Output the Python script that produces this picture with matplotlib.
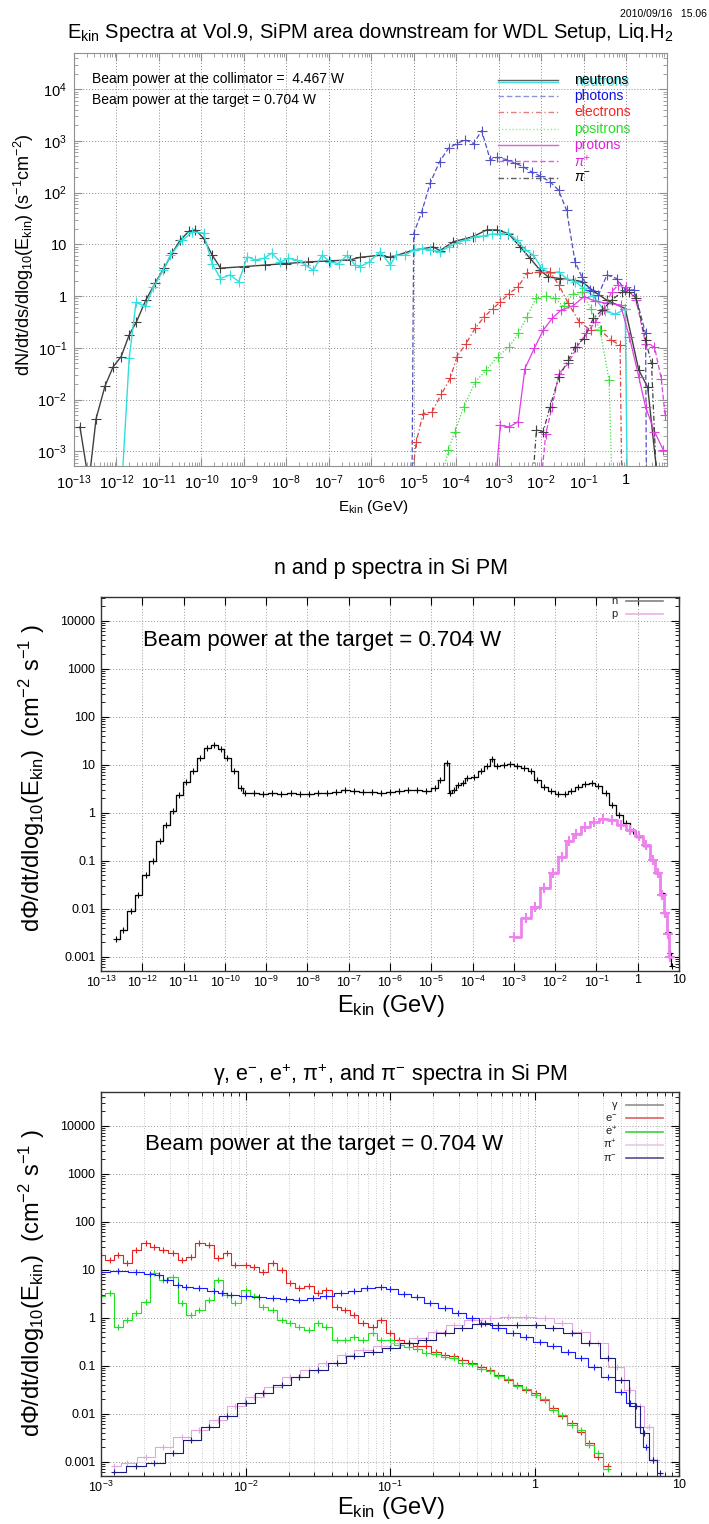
import matplotlib
matplotlib.use('Agg')
import matplotlib.pyplot as plt
import numpy as np
from matplotlib.ticker import FixedLocator, NullLocator, NullFormatter, LogLocator

plt.rcParams['font.family'] = ['Liberation Sans', 'DejaVu Sans']
plt.rcParams['mathtext.fontset'] = 'custom'
plt.rcParams['mathtext.rm'] = 'Liberation Sans'
plt.rcParams['mathtext.it'] = 'Liberation Sans:italic'
plt.rcParams['mathtext.bf'] = 'Liberation Sans:bold'

W, H = 709, 1524

# ---------------- top panel: log10(E/GeV), log10(flux) ----------------
n_top_logE = [-12.86, -12.65, -12.48, -12.27, -12.08, -11.89, -11.70, -11.53, -11.31, -11.09, -10.88, -10.69,
              -10.50, -10.30, -10.14, -9.95, -9.75, -9.55, -9.00, -8.50, -8.00, -7.50, -7.00, -6.50, -6.26,
              -5.79, -5.55, -5.00, -4.54, -4.38, -4.07, -3.60, -3.28, -3.04, -2.77, -2.49, -2.26, -2.02,
              -1.83, -1.55, -1.24, -1.04, -0.77, -0.45, -0.02, 0.30, 0.51, 0.75]
n_top_logF = [-2.53, -3.6, -2.37, -1.74, -1.37, -1.17, -0.75, -0.50, -0.08, 0.25, 0.54, 0.83, 1.08, 1.25, 1.28,
              1.12, 0.80, 0.54, 0.57, 0.60, 0.63, 0.66, 0.68, 0.70, 0.75, 0.79, 0.75, 0.89, 0.95, 0.88, 1.05,
              1.15, 1.28, 1.28, 1.21, 0.95, 0.73, 0.50, 0.37, 0.34, 0.31, 0.28, 0.10, -0.08, -0.24, -1.43,
              -1.76, -3.6]
n2_top_logE = [-11.87, -11.70, -11.54, -11.32, -11.13, -10.90, -10.73, -10.45, -10.21, -9.95, -9.75, -9.55,
               -9.32, -9.12, -8.92, -8.73, -8.53, -8.34, -8.14, -7.95, -7.75, -7.55, -7.36, -7.16, -6.96,
               -6.77, -6.57, -6.38, -6.26, -6.05, -5.79, -5.55, -5.42, -5.21, -5.00, -4.81, -4.61, -4.38,
               -4.18, -3.98, -3.79, -3.55, -3.36, -3.16, -2.97, -2.77, -2.57, -2.37, -2.18, -1.99, -1.79,
               -1.59, -1.40, -1.20, -0.99, -0.77, -0.50, -0.25, -0.02, 0.03]
n2_top_logF = [-3.6, -1.20, -0.12, -0.20, 0.17, 0.50, 0.79, 1.08, 1.24, 1.22, 0.63, 0.34, 0.41, 0.28, 0.76,
               0.70, 0.73, 0.83, 0.66, 0.73, 0.70, 0.60, 0.50, 0.79, 0.66, 0.63, 0.79, 0.60, 0.57, 0.66, 0.86,
               0.60, 0.79, 0.79, 0.89, 0.92, 0.89, 0.86, 0.95, 1.03, 1.08, 1.15, 1.16, 1.20, 1.20, 1.22, 1.08,
               0.90, 0.79, 0.54, 0.44, 0.47, 0.34, 0.28, 0.15, 0.0, -0.29, -0.35, -0.25, -3.6]
ph_logE = [-5.04, -5.00, -4.81, -4.61, -4.39, -4.18, -3.98, -3.79, -3.59, -3.40, -3.20, -3.04, -2.81, -2.61,
           -2.42, -2.22, -2.02, -1.79, -1.59, -1.40, -1.20, -1.04, -0.85, -0.65, -0.45, -0.22, -0.02, 0.19,
           0.46, 0.48]
ph_logF = [-3.6, 1.21, 1.63, 2.19, 2.60, 2.86, 2.95, 3.02, 2.95, 3.20, 2.64, 2.68, 2.64, 2.57, 2.50, 2.40,
           2.32, 2.21, 2.05, 1.66, 0.66, 0.37, 0.12, 0.02, 0.41, 0.34, 0.12, 0.12, -0.72, -3.6]
el_logE = [-5.05, -4.94, -4.78, -4.57, -4.35, -4.14, -3.98, -3.77, -3.55, -3.34, -3.13, -2.96, -2.75, -2.54,
           -2.33, -2.06, -1.79, -1.58, -1.36, -1.10, -0.83, -0.60, -0.35, -0.14, -0.10]
el_logF = [-3.6, -2.82, -2.27, -2.24, -1.90, -1.59, -1.17, -0.92, -0.62, -0.40, -0.24, -0.11, 0.05, 0.18, 0.45,
           0.46, 0.47, 0.21, -0.14, -0.50, -0.66, -0.66, -0.85, -0.95, -3.6]
po_logE = [-4.35, -4.19, -4.03, -3.82, -3.55, -3.29, -3.02, -2.75, -2.54, -2.33, -2.12, -1.89, -1.68, -1.47,
           -1.25, -1.04, -0.83, -0.61, -0.40, -0.33]
po_logF = [-3.6, -2.98, -2.62, -2.14, -1.66, -1.43, -1.17, -0.98, -0.72, -0.40, -0.04, 0.0, -0.04, -0.20, 0.05,
           0.08, -0.24, -0.66, -1.62, -3.6]
pr_logE = [-3.07, -2.96, -2.75, -2.54, -2.38, -2.16, -1.95, -1.74, -1.53, -1.25, -0.99, -0.72, -0.45, -0.13,
           0.08, 0.30, 0.46, 0.67, 0.88]
pr_logF = [-3.6, -2.50, -2.53, -2.43, -1.40, -1.01, -0.66, -0.43, -0.27, -0.19, -0.01, -0.10, -0.14, -0.17,
           -0.79, -1.56, -2.14, -2.62, -2.98]
pp_logE = [-2.00, -1.89, -1.74, -1.58, -1.36, -1.15, -0.94, -0.72, -0.51, -0.34, -0.19, 0.00, 0.24, 0.46, 0.67,
           0.83, 0.92]
pp_logF = [-3.6, -2.66, -2.14, -1.50, -1.30, -0.98, -0.72, -0.50, -0.24, 0.08, 0.21, 0.18, -0.08, -0.92, -0.98,
           -1.60, -2.30]
pm_logE = [-2.20, -2.11, -1.95, -1.79, -1.58, -1.36, -1.20, -0.99, -0.77, -0.56, -0.34, -0.10, 0.08, 0.24, 0.46,
           0.60, 0.72]
pm_logF = [-3.6, -2.59, -2.62, -2.14, -1.56, -1.24, -0.98, -0.82, -0.43, -0.27, -0.08, 0.08, 0.08, -0.04, -0.85,
           -1.30, -3.6]

# ---------------- middle panel ----------------
n_mid_logE = [-12.64, -12.46, -12.28, -12.10, -11.92, -11.75, -11.58, -11.42, -11.26, -11.10, -10.93, -10.77,
              -10.60, -10.43, -10.27, -10.10, -9.94, -9.78, -9.62,
              -9.51, -9.29, -9.07, -8.85, -8.63, -8.41, -8.19, -7.97, -7.75, -7.53, -7.31, -7.09, -6.87, -6.66,
              -6.44, -6.22, -6.00, -5.78, -5.56, -5.34, -5.12, -4.90, -4.79, -4.62, -4.54, -4.46, -4.35, -4.24,
              -4.13, -3.97, -3.80, -3.64, -3.53, -3.42, -3.25, -3.09, -2.92, -2.76, -2.59, -2.43, -2.26, -2.10,
              -1.94, -1.77, -1.61, -1.44, -1.28, -1.11, -0.95, -0.78, -0.62, -0.45, -0.29, -0.12, 0.04, 0.21,
              0.37, 0.48, 0.59, 0.67, 0.73, 0.79, 0.83]
n_mid_val = [0.0023, 0.0036, 0.0088, 0.019, 0.05, 0.1, 0.25, 0.55, 1.1, 2.3, 4.3, 7.5, 13.5, 22, 25, 21, 14,
             7.3, 3.3,
             2.6, 2.5, 2.45, 2.5, 2.45, 2.5, 2.4, 2.45, 2.5, 2.6, 2.7, 2.9, 2.75, 2.7, 2.65, 2.6, 2.7, 2.8, 2.9,
             3.0, 2.8, 3.3, 4.8, 10.7, 2.5, 3.0, 3.8, 4.1, 5.2, 5.6, 7.2, 9.2, 13.0, 9.5, 10.0, 10.5, 9.5, 8.5,
             7.2, 4.8, 3.4, 2.75, 2.45, 2.45, 2.75, 3.4, 4.0, 4.1, 3.6, 2.5, 1.45, 0.9, 0.6, 0.42, 0.31, 0.2,
             0.105, 0.055, 0.021, 0.0082, 0.0032, 0.0012, 0.00063]
p_mid_logE = [-3.00, -2.70, -2.48, -2.26, -2.04, -1.83, -1.66, -1.50, -1.28, -1.06, -0.84, -0.62, -0.40, -0.18,
              0.04, 0.21, 0.37, 0.48, 0.59, 0.67, 0.73, 0.79]
p_mid_val = [0.0026, 0.0065, 0.011, 0.027, 0.055, 0.12, 0.25, 0.35, 0.5, 0.63, 0.74, 0.69, 0.56, 0.44, 0.32,
             0.21, 0.105, 0.055, 0.019, 0.008, 0.0029, 0.001]

# ---------------- bottom panel: log10(E/GeV), log10(flux) ----------------
g_logE = [-3.00, -2.88, -2.755, -2.66, -2.60, -2.54, -2.47, -2.41, -2.32, -2.22, -2.16, -2.10, -2.00, -1.91,
          -1.81, -1.72, -1.63, -1.53, -1.44, -1.34, -1.25, -1.16, -1.06, -1.00, -0.90, -0.81, -0.72, -0.62,
          -0.53, -0.43, -0.34, -0.25, -0.15, -0.06, 0.04, 0.13, 0.23, 0.32, 0.41, 0.51, 0.60, 0.66, 0.73, 0.77,
          0.82]
g_logF = [0.96, 0.97, 0.96, 0.91, 0.89, 0.78, 0.68, 0.63, 0.61, 0.56, 0.52, 0.47, 0.44, 0.42, 0.40, 0.38, 0.37,
          0.40, 0.44, 0.51, 0.56, 0.61, 0.63, 0.59, 0.49, 0.42, 0.31, 0.19, 0.09, -0.01, -0.12, -0.22, -0.33,
          -0.41, -0.50, -0.60, -0.71, -0.85, -1.02, -1.23, -1.54, -1.78, -2.27, -2.69, -2.97]
lep_logE = [-3.0, -2.94, -2.88, -2.82, -2.755, -2.69, -2.63, -2.57, -2.50, -2.44, -2.38, -2.32, -2.25, -2.19,
            -2.13, -2.07, -2.0, -1.94, -1.88, -1.81, -1.75, -1.69, -1.63, -1.56, -1.50, -1.44, -1.37, -1.31,
            -1.25, -1.19, -1.12, -1.06, -1.0, -0.94, -0.87, -0.81, -0.75, -0.68, -0.62, -0.56, -0.50, -0.43,
            -0.37, -0.31, -0.25, -0.18, -0.12, -0.06, 0.01, 0.07, 0.13, 0.19, 0.26, 0.32, 0.38, 0.44, 0.51]
em_logF = [1.31, 1.20, 1.31, 1.13, 1.41, 1.55, 1.48, 1.41, 1.34, 1.20, 1.27, 1.55, 1.51, 1.24, 1.34, 1.10, 1.10,
           1.06, 0.96, 1.13, 0.99, 0.72, 0.61, 0.65, 0.51, 0.58, 0.23, 0.16, 0.06, -0.12, -0.19, -0.05, -0.33,
           -0.47, -0.53, -0.60, -0.60, -0.71, -0.78, -0.81, -0.88, -0.95, -1.02, -1.09, -1.19, -1.30, -1.40,
           -1.51, -1.58, -1.72, -1.89, -2.06, -2.20, -2.38, -2.62, -2.90, -3.10]
ep_logF = [0.44, 0.51, -0.19, -0.05, 0.09, 0.33, 0.92, 0.78, 0.85, 0.30, 0.06, 0.16, 0.37, 0.78, 0.47, 0.30,
           0.58, 0.44, 0.23, 0.16, -0.05, -0.12, -0.19, -0.26, -0.12, -0.19, -0.47, -0.47, -0.40, -0.47, -0.33,
           -0.47, -0.47, -0.57, -0.62, -0.65, -0.73, -0.76, -0.83, -0.85, -0.94, -0.97, -1.08, -1.11, -1.21,
           -1.28, -1.43, -1.49, -1.62, -1.70, -1.92, -2.03, -2.24, -2.35, -2.66, -2.83, -3.15]
pip_logE = [-2.91, -2.82, -2.69, -2.57, -2.44, -2.32, -2.19, -2.07, -1.94, -1.81, -1.69, -1.56, -1.44, -1.31,
            -1.19, -1.06, -0.94, -0.81, -0.68, -0.56, -0.43, -0.31, -0.18, -0.06, 0.07, 0.19, 0.32, 0.44, 0.57,
            0.66, 0.73, 0.79, 0.85]
pip_logF = [-3.10, -3.03, -2.90, -2.69, -2.48, -2.34, -2.13, -1.85, -1.65, -1.44, -1.23, -1.09, -0.95, -0.78,
            -0.67, -0.59, -0.53, -0.43, -0.29, -0.15, -0.05, -0.01, 0.01, 0.01, -0.01, -0.12, -0.29, -0.53,
            -1.02, -1.51, -1.85, -2.27, -2.97]
pim_logE = [-2.91, -2.755, -2.63, -2.50, -2.38, -2.25, -2.13, -2.00, -1.88, -1.75, -1.63, -1.50, -1.37, -1.25,
            -1.12, -1.00, -0.87, -0.75, -0.62, -0.50, -0.37, -0.25, -0.12, 0.01, 0.13, 0.26, 0.38, 0.51, 0.60,
            0.70, 0.76, 0.82, 0.87]
pim_logF = [-3.21, -3.10, -3.03, -2.83, -2.55, -2.27, -2.06, -1.78, -1.58, -1.40, -1.23, -1.09, -0.95, -0.81,
            -0.71, -0.64, -0.53, -0.47, -0.33, -0.22, -0.13, -0.15, -0.15, -0.15, -0.22, -0.33, -0.53, -0.85,
            -1.30, -1.85, -2.41, -2.97, -3.24]

BEAM_COLL = 'Beam power at the collimator =  4.467 W'
BEAM_TGT = 'Beam power at the target = 0.704 W'


def px_axes(fig, left, right, top, bottom):
    return fig.add_axes([left / W, 1 - bottom / H, (right - left) / W, (bottom - top) / H])


def sup10(k):
    if k == 0:
        return '1'
    if k == 1:
        return '10'
    return r'$\mathregular{10^{%d}}$' % k


def curve(ax, lx, ly, color, ls, lw=0.9, ms=7):
    ax.plot(10.0 ** np.array(lx), 10.0 ** np.array(ly), color=color, ls=ls, lw=lw,
            marker='+', ms=ms, mew=0.8)


def hist(ax, lx, vals, color, lw=0.9, ms=5, mew=0.8):
    e = 10.0 ** np.array(lx)
    ax.step(e, vals, where='mid', color=color, lw=lw)
    ax.plot(e, vals, ls='none', marker='+', ms=ms, mew=mew, color=color)


fig = plt.figure(figsize=(W / 100, H / 100), dpi=100)
fig.text(0.997, 0.991, '2010/09/16   15.06', ha='right', va='center', fontsize=7.5)

# ======================= top panel =======================
ax = px_axes(fig, 74, 667, 53, 466)
ax.set_xscale('log')
ax.set_yscale('log')
curve(ax, n_top_logE, n_top_logF, '#404040', '-', lw=1.0)
curve(ax, n2_top_logE, n2_top_logF, '#33dede', '-', lw=1.0)
curve(ax, ph_logE, ph_logF, '#5050c8', (0, (4, 2)))
curve(ax, el_logE, el_logF, '#e04040', (0, (4, 2, 1, 2)))
curve(ax, po_logE, po_logF, '#40e040', (0, (1, 1.5)))
curve(ax, pr_logE, pr_logF, '#e040e0', '-')
curve(ax, pp_logE, pp_logF, '#e040e0', (0, (4, 2)))
curve(ax, pm_logE, pm_logF, '#404040', (0, (4, 2, 1, 2)))
ax.set_xlim(1e-13, 10 ** 0.965)
ax.set_ylim(10 ** -3.285, 10 ** 4.70)
ax.xaxis.set_major_locator(FixedLocator([10.0 ** k for k in range(-13, 1)]))
ax.xaxis.set_minor_locator(LogLocator(base=10, subs=np.arange(2, 10) * 1.0, numticks=100))
ax.xaxis.set_minor_formatter(NullFormatter())
ax.set_xticklabels([sup10(k) for k in range(-13, 1)])
ax.yaxis.set_major_locator(FixedLocator([10.0 ** k for k in range(-3, 5)]))
ax.yaxis.set_minor_locator(LogLocator(base=10, subs=np.arange(2, 10) * 1.0, numticks=100))
ax.yaxis.set_minor_formatter(NullFormatter())
ax.set_yticklabels([sup10(k) for k in range(-3, 5)])
ax.tick_params(which='both', direction='in', top=True, right=True, color='#909090', labelsize=10.5)
ax.tick_params(which='major', length=6, pad=5)
ax.tick_params(which='minor', length=3)
ax.grid(True, which='major', ls=(0, (1, 2)), color='#888888', lw=0.7)
for s in ax.spines.values():
    s.set_color('#909090')
ax.text(0.030, 0.937, BEAM_COLL, transform=ax.transAxes, fontsize=10, va='center')
ax.text(0.030, 0.886, BEAM_TGT, transform=ax.transAxes, fontsize=10, va='center')

leg_items = [('neutrons', '#000000', ['#606060', '#40e0e0'], ['-', '-']),
             ('photons', '#1010e0', ['#9090e0'], [(0, (4, 2))]),
             ('electrons', '#ff2020', ['#e08080'], [(0, (4, 2, 1, 2))]),
             ('positrons', '#20e020', ['#90ee90'], [(0, (1, 1.5))]),
             ('protons', '#e020e0', ['#e060e0'], ['-']),
             (r'$\pi^{+}$', '#e020e0', ['#e060e0'], [(0, (4, 2))]),
             (r'$\pi^{-}$', '#000000', ['#606060'], [(0, (4, 2, 1, 2))])]
for i, (lab, tc, lcs, lss) in enumerate(leg_items):
    yy = 0.935 - i * 0.0395
    for j, (lc, lsty) in enumerate(zip(lcs, lss)):
        ax.plot([0.715, 0.816], [yy - j * 0.006, yy - j * 0.006], transform=ax.transAxes, color=lc, ls=lsty,
                lw=1.0)
    if lab == 'neutrons':
        ax.text(0.845, yy - 0.006, lab, transform=ax.transAxes, color='#40e0e0', fontsize=10, va='center')
    ax.text(0.843, yy, lab, transform=ax.transAxes, color=tc, fontsize=10, va='center')

fig.text(370 / W, 1 - 32 / H, r'E$_{\rm kin}$ Spectra at Vol.9, SiPM area downstream for WDL Setup, Liq.H$_{2}$',
         ha='center', va='center', fontsize=14.5)
fig.text(373 / W, 1 - 507 / H, r'E$_{\rm kin}$ (GeV)', ha='center', va='center', fontsize=11)
fig.text(24 / W, 1 - 255 / H, r'dN/dt/ds/dlog$_{10}$(E$_{\rm kin}$) (s$^{-1}$cm$^{-2}$)', ha='center',
         va='center', rotation=90, fontsize=13)


def style_lower(ax, xdec, minor_x):
    ax.set_xscale('log')
    ax.set_yscale('log')
    ax.xaxis.set_major_locator(FixedLocator([10.0 ** k for k in xdec]))
    if minor_x:
        ax.xaxis.set_minor_locator(LogLocator(base=10, subs=np.arange(2, 10) * 1.0, numticks=100))
    else:
        ax.xaxis.set_minor_locator(NullLocator())
    ax.xaxis.set_minor_formatter(NullFormatter())
    ax.set_xticklabels([sup10(k) for k in xdec])
    ax.yaxis.set_major_locator(FixedLocator([10.0 ** k for k in range(-3, 5)]))
    ax.yaxis.set_minor_locator(LogLocator(base=10, subs=np.arange(2, 10) * 1.0, numticks=100))
    ax.yaxis.set_minor_formatter(NullFormatter())
    ax.set_yticklabels(['0.001', '0.01', '0.1', '1', '10', '100', '1000', '10000'])
    ax.tick_params(which='both', direction='in', top=True, right=True, labelsize=9)
    ax.tick_params(which='major', length=6)
    ax.tick_params(axis='x', which='major', pad=2.5)
    ax.tick_params(axis='y', which='major', pad=4)
    ax.tick_params(which='minor', length=3)
    ax.grid(True, which='major', ls=(0, (1, 2)), color='#999999', lw=0.7)
    if minor_x:
        ax.grid(True, which='minor', axis='x', ls=(0, (1, 2)), color='#bbbbbb', lw=0.6)
    for s in ax.spines.values():
        s.set_color('#333333')
        s.set_linewidth(1.0)


def small_legend(ax, items, y0, dy):
    for i, (lab, lc) in enumerate(items):
        yy = y0 - i * dy
        ax.plot([0.908, 0.972], [yy, yy], transform=ax.transAxes, color=lc, lw=1.2)
        ax.text(0.893, yy, lab, transform=ax.transAxes, ha='right', va='center', fontsize=8, color='#222222')


YLAB = r'd$\Phi$/dt/dlog$_{10}$(E$_{\rm kin}$)  (cm$^{-2}$ s$^{-1}$ )'

# ======================= middle panel =======================
ax = px_axes(fig, 101, 679, 597, 971)
hist(ax, n_mid_logE, n_mid_val, '#000000', lw=0.9, ms=5)
hist(ax, p_mid_logE, p_mid_val, '#ee82ee', lw=2.0, ms=7, mew=1.5)
style_lower(ax, list(range(-13, 2)), False)
ax.set_xlim(1e-13, 10)
ax.set_ylim(10 ** -3.30, 10 ** 4.49)
small_legend(ax, [('n', '#808080'), ('p', '#e8b0e8')], 0.990, 0.035)
ax.text(0.0725, 0.885, BEAM_TGT, transform=ax.transAxes, fontsize=16, va='center')
fig.text(391 / W, 1 - 568 / H, 'n and p spectra in Si PM', ha='center', va='center', fontsize=15.5)
fig.text(391 / W, 1 - 1006 / H, r'E$_{\rm kin}$ (GeV)', ha='center', va='center', fontsize=17)
fig.text(32 / W, 1 - 778 / H, YLAB, ha='center', va='center', rotation=90, fontsize=17)

# ======================= bottom panel =======================
ax = px_axes(fig, 101, 679, 1092, 1476)
hist(ax, lep_logE, 10.0 ** np.array(em_logF), '#e82020', lw=0.8, ms=5)
hist(ax, lep_logE, 10.0 ** np.array(ep_logF), '#20e020', lw=0.8, ms=5)
hist(ax, pip_logE, 10.0 ** np.array(pip_logF), '#e0a8e0', lw=0.8, ms=5)
hist(ax, g_logE, 10.0 ** np.array(g_logF), '#1a1aff', lw=0.8, ms=5)
hist(ax, pim_logE, 10.0 ** np.array(pim_logF), '#1a1a80', lw=0.8, ms=5)
style_lower(ax, list(range(-3, 2)), True)
ax.set_xlim(1e-3, 10)
ax.set_ylim(10 ** -3.30, 10 ** 4.70)
small_legend(ax, [('γ', '#909090'), (r'e$^{-}$', '#e06060'), (r'e$^{+}$', '#40d040'),
                  (r'π$^{+}$', '#e8c8e8'), (r'π$^{-}$', '#505090')], 0.966, 0.0345)
ax.text(0.076, 0.862, BEAM_TGT, transform=ax.transAxes, fontsize=16, va='center')
fig.text(391 / W, 1 - 1075 / H, r'γ, e$^{-}$, e$^{+}$, π$^{+}$, and π$^{-}$ spectra in Si PM', ha='center',
         va='center', fontsize=15.5)
fig.text(391 / W, 1 - 1508 / H, r'E$_{\rm kin}$ (GeV)', ha='center', va='center', fontsize=17)
fig.text(32 / W, 1 - 1283 / H, YLAB, ha='center', va='center', rotation=90, fontsize=17)

fig.savefig('out.png', dpi=100)
